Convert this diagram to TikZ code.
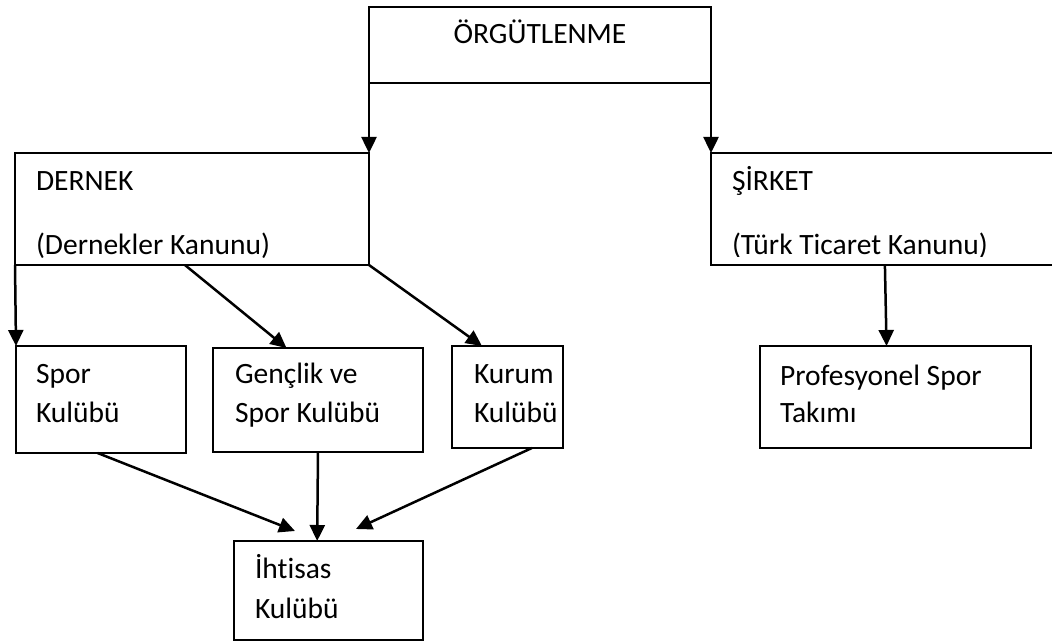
\documentclass[tikz,border=0pt]{standalone}
\usepackage{fontspec}
\setmainfont{Carlito}[Ligatures=NoCommon]
\usetikzlibrary{arrows.meta,calc}
\begin{document}
\begin{tikzpicture}[x=1pt,y=-1pt,
  box/.style={draw, line width=2pt, inner sep=0pt, outer sep=0pt, rectangle, anchor=north west},
  lbl/.style={inner sep=0pt, outer sep=0pt, anchor=base west, font=\fontsize{29.5pt}{35pt}\selectfont},
  arr/.style={line width=2.5pt, -{Triangle[length=16pt,width=15pt]}}]
\useasboundingbox (0,0) rectangle (1052,644);

% boxes
\node[box, minimum width=342pt, minimum height=76pt]  (top)     at (369,7)   {};
\node[box, minimum width=354pt, minimum height=112pt] (dernek)  at (15,153)  {};
\node[inner sep=0pt, outer sep=0pt, rectangle, anchor=north west,
      minimum width=341pt, minimum height=112pt]     (sirket)  at (711,153) {};
\draw[line width=2pt] (sirket.north east) -- (sirket.north west)
      -- (sirket.south west) -- (sirket.south east);
\node[box, minimum width=170pt, minimum height=107pt] (spor)    at (16,346)  {};
\node[box, minimum width=210pt, minimum height=104pt] (genclik) at (213,348) {};
\node[box, minimum width=111pt, minimum height=102pt] (kurum)   at (452,346) {};
\node[box, minimum width=271pt, minimum height=102pt] (prof)    at (760,346) {};
\node[box, minimum width=189pt, minimum height=99pt]  (ihtisas) at (234,541) {};

% texts (the second line of the two upper boxes is cut off by its line box)
\node[lbl, anchor=base] (tOrg) at (540,44) {ÖRGÜTLENME};
\node[lbl] (tDer) at (36,191) {DERNEK};
\begin{scope}
  \clip (dernek.north west) rectangle ($(dernek.south east)+(0,-7)$);
  \node[lbl] (tDerK) at (36,255) {(Dernekler Kanunu)};
\end{scope}
\node[lbl] (tSir) at (732,191) {ŞİRKET};
\begin{scope}
  \clip (sirket.north west) rectangle ($(sirket.south east)+(0,-8)$);
  \node[lbl] (tSirK) at (732,255) {(Türk Ticaret Kanunu)};
\end{scope}
\node[lbl] (tSp1) at (36,383) {Spor};
\node[lbl] (tSp2) at (36,422) {Kulübü};
\node[lbl] (tGe1) at (235,383) {Gençlik ve};
\node[lbl] (tGe2) at (235,422) {Spor Kulübü};
\node[lbl] (tKu1) at (474,383) {Kurum};
\node[lbl] (tKu2) at (474,422) {Kulübü};
\node[lbl] (tPr1) at (780,385) {Profesyonel Spor};
\node[lbl] (tPr2) at (780,422) {Takımı};
\node[lbl] (tIh1) at (255,578) {İhtisas};
\node[lbl] (tIh2) at (255,618) {Kulübü};

% free arrow ends above the bottom box
\coordinate (endA) at ($(ihtisas.north west)+(61,-10)$);
\coordinate (endC) at ($(ihtisas.north west)+(122,-12)$);

% connectors
\draw[arr] (top.south west) -- (dernek.north east);
\draw[arr] (top.south east) -- (sirket.north west);
\draw[arr] (dernek.south west) -- (spor.north west);
\draw[arr] ($(dernek.south west)!0.48!(dernek.south east)$) -- ($(genclik.north west)!0.35!(genclik.north east)$);
\draw[arr] (dernek.south east) -- ($(kurum.north west)!0.27!(kurum.north east)$);
\draw[arr] ($(sirket.south west)!0.51!(sirket.south east)$) -- ($(prof.north west)!0.467!(prof.north east)$);
\draw[arr] ($(spor.south west)!0.48!(spor.south east)$) -- (endA);
\draw[arr] (genclik.south) -- ($(ihtisas.north west)!0.44!(ihtisas.north east)$);
\draw[arr] ($(kurum.south west)!0.72!(kurum.south east)$) -- (endC);
\end{tikzpicture}
\end{document}
